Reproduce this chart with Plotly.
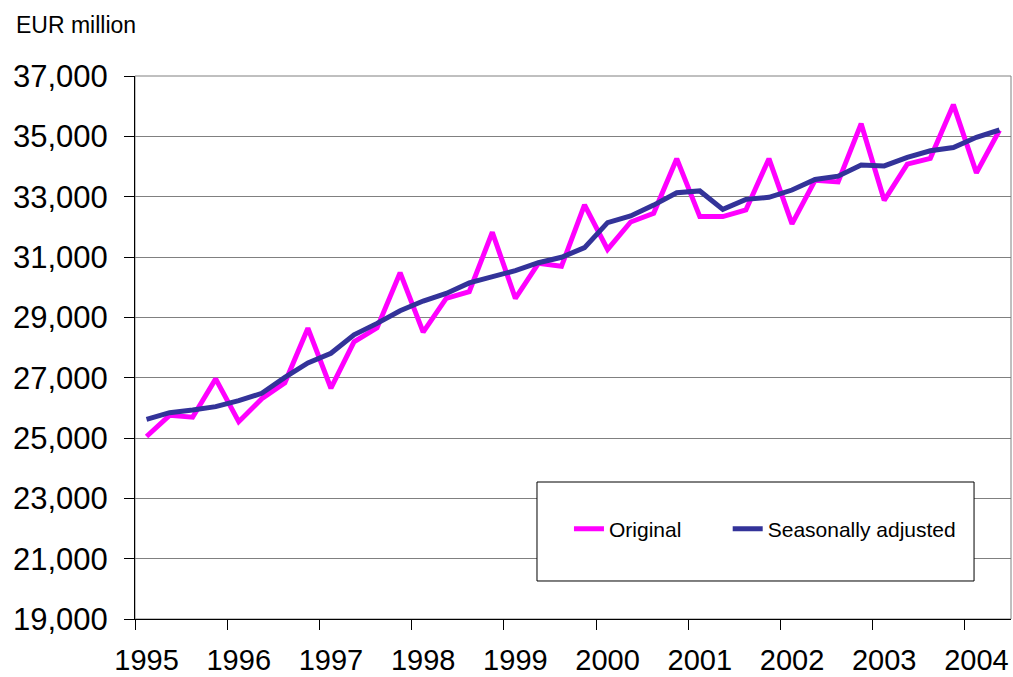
import plotly.graph_objects as go

years = ["1995", "1996", "1997", "1998", "1999", "2000", "2001", "2002", "2003", "2004"]
quarter_index = list(range(38))  # 1995 Q1 .. 2004 Q2

original = [25050, 25750, 25690, 26960, 25540, 26300, 26830, 28640,
            26650, 28190, 28650, 30480, 28510, 29630, 29850, 31820,
            29630, 30790, 30690, 32730, 31250, 32160, 32450, 34260,
            32340, 32340, 32560, 34260, 32100, 33540, 33490, 35420,
            32880, 34080, 34270, 36050, 33790, 35200]

seasonally_adjusted = [25620, 25840, 25930, 26040, 26240, 26480, 27010, 27490,
                       27810, 28420, 28800, 29220, 29540, 29790, 30140, 30350,
                       30550, 30810, 30990, 31310, 32140, 32360, 32720, 33130,
                       33190, 32580, 32910, 32980, 33220, 33570, 33680, 34050,
                       34020, 34300, 34520, 34630, 34970, 35210]

y_ticks = list(range(19000, 37001, 2000))
year_label_pos = [4 * k for k in range(len(years))]          # first quarter of each year
year_boundary_pos = [-0.5 + 4 * k for k in range(len(years))]

FONT = "Arial, Liberation Sans, sans-serif"

fig = go.Figure()
fig.add_trace(go.Scatter(x=quarter_index, y=original, mode="lines", name="Original",
                         line=dict(color="#FF00FF", width=5), legend="legend"))
fig.add_trace(go.Scatter(x=quarter_index, y=seasonally_adjusted, mode="lines",
                         name="Seasonally adjusted",
                         line=dict(color="#333399", width=5), legend="legend2"))

# plot-area border (grey) and legend box
fig.add_shape(type="rect", xref="paper", yref="paper", x0=0, x1=1, y0=0, y1=1,
              line=dict(color="#808080", width=1), layer="below")
fig.add_shape(type="rect", xref="paper", yref="paper",
              x0=0.4589, x1=0.9578, y0=0.070, y1=0.2523,
              line=dict(color="#000000", width=1), fillcolor="white", layer="above")

fig.add_annotation(text="EUR million", xref="paper", yref="paper",
                   x=-0.138, y=1.094, xanchor="left", yanchor="middle",
                   showarrow=False, font=dict(family=FONT, size=23, color="black"))

legend_common = dict(orientation="h", yanchor="middle", xanchor="left",
                     bgcolor="rgba(0,0,0,0)", borderwidth=0,
                     font=dict(family=FONT, size=21, color="black"))

fig.update_layout(
    width=1013, height=677,
    margin=dict(l=135, r=2, t=76, b=58, autoexpand=False),
    paper_bgcolor="white", plot_bgcolor="white",
    font=dict(family=FONT, color="black"),
    showlegend=True,
    legend=dict(x=0.4954, y=0.1657, **legend_common),
    legend2=dict(x=0.6766, y=0.1657, **legend_common),
    xaxis=dict(range=[-0.5, 37.5], tickmode="array", tickvals=year_label_pos,
               ticktext=years, ticks="outside", ticklen=10,
               tickcolor="rgba(0,0,0,0)",
               minor=dict(tickmode="array", tickvals=year_boundary_pos,
                          ticks="outside", ticklen=10, tickcolor="black",
                          showgrid=False),
               showgrid=False, zeroline=False, showline=True, linecolor="black",
               linewidth=1, tickfont=dict(family=FONT, size=29, color="black"),
               ticklabelstandoff=5, automargin=False, fixedrange=True),
    yaxis=dict(range=[19000, 37000], tickmode="array", tickvals=y_ticks,
               ticktext=[f"{v:,}" for v in y_ticks], ticks="outside", ticklen=10,
               tickcolor="black", showgrid=True, gridcolor="#808080", gridwidth=1,
               zeroline=False, showline=True, linecolor="black", linewidth=1,
               tickfont=dict(family=FONT, size=31, color="black"),
               ticklabelstandoff=10, automargin=False, fixedrange=True),
)

fig.write_html("out.html", config={"displayModeBar": False},
               post_script="document.body.style.margin='0';"
                           "document.documentElement.style.overflow='hidden';")
